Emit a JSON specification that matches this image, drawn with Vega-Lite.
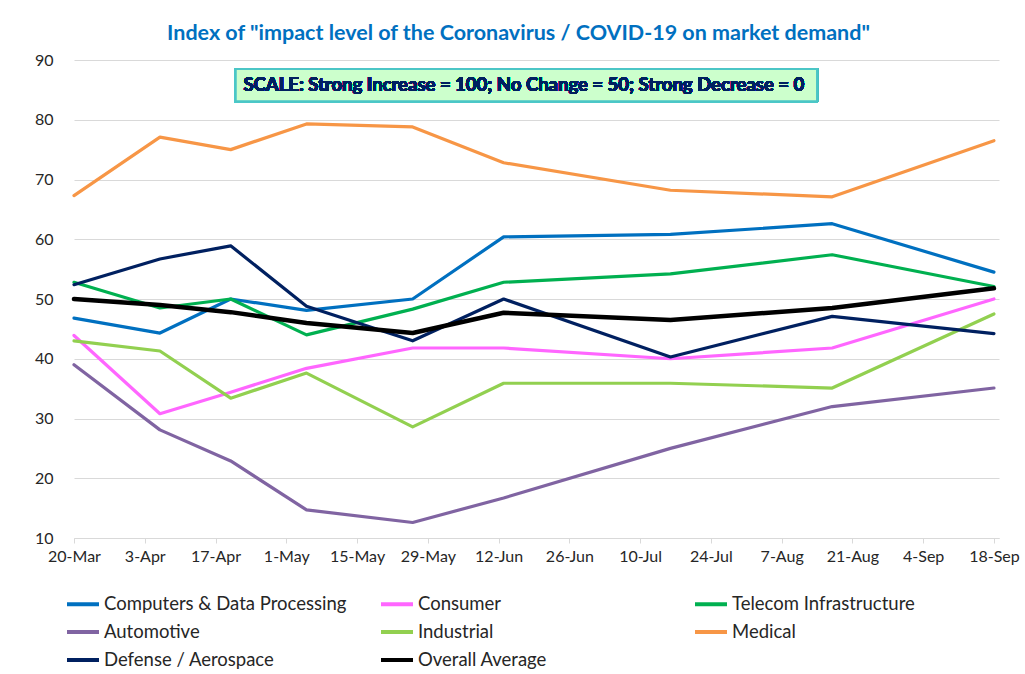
{
  "$schema": "https://vega.github.io/schema/vega-lite/v6.json",
  "width": 925,
  "height": 478,
  "autosize": {"type": "none"},
  "padding": {"left": 74, "top": 60, "right": 26, "bottom": 136},
  "background": "white",
  "title": {
    "text": "Index of \"impact level of the Coronavirus / COVID-19 on market demand\"",
    "font": "Lato",
    "fontSize": 21.5,
    "fontWeight": "bold",
    "color": "#0070C0",
    "anchor": "middle",
    "dx": -18,
    "offset": 8
  },
  "config": {
    "view": {"stroke": null},
    "font": "Lato"
  },
  "data": {
    "values": [
      {"series": "Computers & Data Processing", "date": "2020-03-20", "value": 46.8},
      {"series": "Computers & Data Processing", "date": "2020-04-06", "value": 44.3},
      {"series": "Computers & Data Processing", "date": "2020-04-20", "value": 50.0},
      {"series": "Computers & Data Processing", "date": "2020-05-05", "value": 48.1},
      {"series": "Computers & Data Processing", "date": "2020-05-26", "value": 50.0},
      {"series": "Computers & Data Processing", "date": "2020-06-13", "value": 60.4},
      {"series": "Computers & Data Processing", "date": "2020-07-16", "value": 60.8},
      {"series": "Computers & Data Processing", "date": "2020-08-17", "value": 62.6},
      {"series": "Computers & Data Processing", "date": "2020-09-18", "value": 54.5},
      {"series": "Consumer", "date": "2020-03-20", "value": 43.9},
      {"series": "Consumer", "date": "2020-04-06", "value": 30.8},
      {"series": "Consumer", "date": "2020-04-20", "value": 34.4},
      {"series": "Consumer", "date": "2020-05-05", "value": 38.4},
      {"series": "Consumer", "date": "2020-05-26", "value": 41.8},
      {"series": "Consumer", "date": "2020-06-13", "value": 41.8},
      {"series": "Consumer", "date": "2020-07-16", "value": 40.0},
      {"series": "Consumer", "date": "2020-08-17", "value": 41.8},
      {"series": "Consumer", "date": "2020-09-18", "value": 50.0},
      {"series": "Telecom Infrastructure", "date": "2020-03-20", "value": 52.8},
      {"series": "Telecom Infrastructure", "date": "2020-04-06", "value": 48.5},
      {"series": "Telecom Infrastructure", "date": "2020-04-20", "value": 50.0},
      {"series": "Telecom Infrastructure", "date": "2020-05-05", "value": 44.0},
      {"series": "Telecom Infrastructure", "date": "2020-05-26", "value": 48.3},
      {"series": "Telecom Infrastructure", "date": "2020-06-13", "value": 52.8},
      {"series": "Telecom Infrastructure", "date": "2020-07-16", "value": 54.2},
      {"series": "Telecom Infrastructure", "date": "2020-08-17", "value": 57.4},
      {"series": "Telecom Infrastructure", "date": "2020-09-18", "value": 52.1},
      {"series": "Automotive", "date": "2020-03-20", "value": 39.0},
      {"series": "Automotive", "date": "2020-04-06", "value": 28.1},
      {"series": "Automotive", "date": "2020-04-20", "value": 22.9},
      {"series": "Automotive", "date": "2020-05-05", "value": 14.7},
      {"series": "Automotive", "date": "2020-05-26", "value": 12.6},
      {"series": "Automotive", "date": "2020-06-13", "value": 16.7},
      {"series": "Automotive", "date": "2020-07-16", "value": 25.0},
      {"series": "Automotive", "date": "2020-08-17", "value": 32.0},
      {"series": "Automotive", "date": "2020-09-18", "value": 35.1},
      {"series": "Industrial", "date": "2020-03-20", "value": 43.0},
      {"series": "Industrial", "date": "2020-04-06", "value": 41.3},
      {"series": "Industrial", "date": "2020-04-20", "value": 33.4},
      {"series": "Industrial", "date": "2020-05-05", "value": 37.6},
      {"series": "Industrial", "date": "2020-05-26", "value": 28.6},
      {"series": "Industrial", "date": "2020-06-13", "value": 35.9},
      {"series": "Industrial", "date": "2020-07-16", "value": 35.9},
      {"series": "Industrial", "date": "2020-08-17", "value": 35.1},
      {"series": "Industrial", "date": "2020-09-18", "value": 47.5},
      {"series": "Medical", "date": "2020-03-20", "value": 67.3},
      {"series": "Medical", "date": "2020-04-06", "value": 77.1},
      {"series": "Medical", "date": "2020-04-20", "value": 75.0},
      {"series": "Medical", "date": "2020-05-05", "value": 79.3},
      {"series": "Medical", "date": "2020-05-26", "value": 78.8},
      {"series": "Medical", "date": "2020-06-13", "value": 72.8},
      {"series": "Medical", "date": "2020-07-16", "value": 68.2},
      {"series": "Medical", "date": "2020-08-17", "value": 67.1},
      {"series": "Medical", "date": "2020-09-18", "value": 76.5},
      {"series": "Defense / Aerospace", "date": "2020-03-20", "value": 52.4},
      {"series": "Defense / Aerospace", "date": "2020-04-06", "value": 56.7},
      {"series": "Defense / Aerospace", "date": "2020-04-20", "value": 58.9},
      {"series": "Defense / Aerospace", "date": "2020-05-05", "value": 48.8},
      {"series": "Defense / Aerospace", "date": "2020-05-26", "value": 43.0},
      {"series": "Defense / Aerospace", "date": "2020-06-13", "value": 50.0},
      {"series": "Defense / Aerospace", "date": "2020-07-16", "value": 40.3},
      {"series": "Defense / Aerospace", "date": "2020-08-17", "value": 47.1},
      {"series": "Defense / Aerospace", "date": "2020-09-18", "value": 44.2},
      {"series": "Overall Average", "date": "2020-03-20", "value": 50.0},
      {"series": "Overall Average", "date": "2020-04-06", "value": 49.0},
      {"series": "Overall Average", "date": "2020-04-20", "value": 47.8},
      {"series": "Overall Average", "date": "2020-05-05", "value": 46.0},
      {"series": "Overall Average", "date": "2020-05-26", "value": 44.3},
      {"series": "Overall Average", "date": "2020-06-13", "value": 47.7},
      {"series": "Overall Average", "date": "2020-07-16", "value": 46.5},
      {"series": "Overall Average", "date": "2020-08-17", "value": 48.5},
      {"series": "Overall Average", "date": "2020-09-18", "value": 51.8}
    ]
  },
  "layer": [
    {
      "mark": {"type": "line", "strokeCap": "round", "strokeJoin": "round"},
      "encoding": {
        "x": {
          "field": "date",
          "type": "temporal",
          "scale": {"type": "utc", "domain": [{"year": 2020, "month": 3, "date": 20, "utc": true}, {"year": 2020, "month": 9, "date": 19, "utc": true}], "nice": false},
          "axis": {
            "title": null,
            "labelExpr": "utcFormat(datum.value, '%-d-%b')",
            "values": [
              {"year": 2020, "month": 3, "date": 20, "utc": true},
              {"year": 2020, "month": 4, "date": 3, "utc": true},
              {"year": 2020, "month": 4, "date": 17, "utc": true},
              {"year": 2020, "month": 5, "date": 1, "utc": true},
              {"year": 2020, "month": 5, "date": 15, "utc": true},
              {"year": 2020, "month": 5, "date": 29, "utc": true},
              {"year": 2020, "month": 6, "date": 12, "utc": true},
              {"year": 2020, "month": 6, "date": 26, "utc": true},
              {"year": 2020, "month": 7, "date": 10, "utc": true},
              {"year": 2020, "month": 7, "date": 24, "utc": true},
              {"year": 2020, "month": 8, "date": 7, "utc": true},
              {"year": 2020, "month": 8, "date": 21, "utc": true},
              {"year": 2020, "month": 9, "date": 4, "utc": true},
              {"year": 2020, "month": 9, "date": 18, "utc": true}
            ],
            "grid": false,
            "domainColor": "#D9D9D9",
            "tickColor": "#D9D9D9",
            "tickSize": 5,
            "labelFontSize": 16,
            "labelColor": "#262626",
            "labelPadding": 5,
            "labelOverlap": false,
            "labelFlush": false
          }
        },
        "y": {
          "field": "value",
          "type": "quantitative",
          "scale": {"domain": [10, 90], "nice": false, "zero": false},
          "axis": {
            "title": null,
            "values": [10, 20, 30, 40, 50, 60, 70, 80, 90],
            "grid": true,
            "gridColor": "#D9D9D9",
            "domain": false,
            "ticks": false,
            "labelFontSize": 16,
            "labelColor": "#262626",
            "labelPadding": 21
          }
        },
        "color": {
          "field": "series",
          "type": "nominal",
          "scale": {
            "domain": ["Computers & Data Processing", "Automotive", "Defense / Aerospace", "Consumer", "Industrial", "Overall Average", "Telecom Infrastructure", "Medical"],
            "range": ["#0070C0", "#8064A2", "#002060", "#FF66FF", "#92D050", "#000000", "#00B050", "#F79646"]
          },
          "legend": {
            "title": null,
            "orient": "none",
            "legendX": -9,
            "legendY": 526,
            "columns": 3,
            "gridAlign": "all",
            "columnPadding": 26,
            "rowPadding": -1,
            "symbolType": "stroke",
            "symbolSize": 1024,
            "symbolStrokeWidth": 4,
            "labelFontSize": 18.5,
            "labelColor": "#262626",
            "labelOffset": 3,
            "labelLimit": 400
          }
        },
        "strokeWidth": {
          "condition": {"test": "datum.series === 'Overall Average'", "value": 4.5},
          "value": 3.2
        }
      }
    },
    {
      "mark": {"type": "rect", "fill": "#CCFFCC", "stroke": "#4BC6C6", "strokeWidth": 2},
      "encoding": {
        "x": {"datum": {"year": 2020, "month": 4, "date": 21, "utc": true}, "type": "temporal"},
        "x2": {"datum": {"year": 2020, "month": 8, "date": 14, "utc": true}},
        "y": {"datum": 88.5, "type": "quantitative"},
        "y2": {"datum": 83.1}
      }
    },
    {
      "mark": {"type": "text", "font": "Lato", "fontSize": 18.5, "fontWeight": "bold", "fill": "#002060", "strokeOpacity": 0, "strokeWidth": 0, "align": "center", "baseline": "middle"},
      "encoding": {
        "x": {"datum": {"year": 2020, "month": 6, "date": 17, "utc": true}, "type": "temporal"},
        "y": {"datum": 85.8, "type": "quantitative"},
        "text": {"value": "SCALE: Strong Increase = 100; No Change = 50; Strong Decrease = 0"}
      }
    }
  ]
}
